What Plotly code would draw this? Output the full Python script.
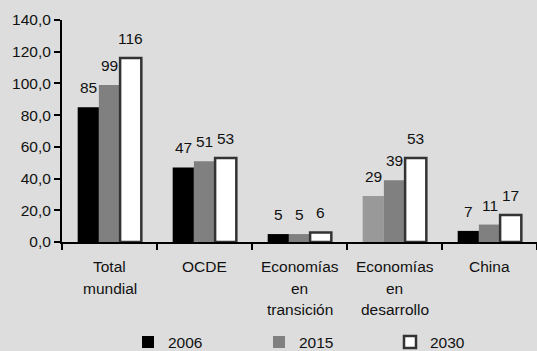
import plotly.graph_objects as go

# Categories, with the line breaks used for their labels under the axis
categories = ["Total mundial", "OCDE", "Economías en transición",
              "Economías en desarrollo", "China"]
category_lines = [["Total", "mundial"], ["OCDE"], ["Economías", "en", "transición"],
                  ["Economías", "en", "desarrollo"], ["China"]]

years = ["2006", "2015", "2030"]
values_2006 = [85, 47, 5, 29, 7]
values_2015 = [99, 51, 5, 39, 11]
values_2030 = [116, 53, 6, 53, 17]

y_ticks = [0, 20, 40, 60, 80, 100, 120, 140]

# Styling
W, H = 537, 351
BG = "#dddddd"
FONT = "Liberation Sans, Arial, sans-serif"
FS = 15.5
BARGAP = 0.33
fill_2006 = ["#000000", "#000000", "#000000", "#999999", "#000000"]
series = [
    (years[0], values_2006, dict(color=fill_2006, line=dict(width=0))),
    (years[1], values_2015, dict(color="#808080", line=dict(width=0))),
    (years[2], values_2030, dict(color="#ffffff", line=dict(width=2.5, color="#333333"))),
]

fig = go.Figure()
for name, vals, marker in series:
    fig.add_trace(go.Bar(x=categories, y=vals, name=name, marker=marker))

annotations = []
# value labels above each bar
bar_w = (1 - BARGAP) / len(series)
for j, (name, vals, _) in enumerate(series):
    for i, v in enumerate(vals):
        annotations.append(dict(
            x=i + (j - 1) * bar_w, y=v, xref="x", yref="y",
            text=str(v), showarrow=False, yanchor="bottom", yshift=9,
            font=dict(family=FONT, size=FS, color="#111111")))

# category labels, one line at a time
for i, lines in enumerate(category_lines):
    for k, line in enumerate(lines):
        annotations.append(dict(
            x=i, y=0, xref="x", yref="y", text=line, showarrow=False,
            yanchor="middle", yshift=-(24.8 + 21.5 * k),
            font=dict(family=FONT, size=FS, color="#111111")))

fig.update_layout(
    width=W, height=H,
    margin=dict(l=62, r=0, t=20, b=109, pad=0),
    paper_bgcolor=BG, plot_bgcolor=BG,
    font=dict(family=FONT, size=FS, color="#111111"),
    separators=", ",
    barmode="group", bargap=BARGAP, bargroupgap=0,
    showlegend=True,
    legend=dict(
        orientation="h", xref="container", yref="container",
        x=128 / W, xanchor="left", y=(H - 342.5) / H, yanchor="middle",
        entrywidth=86, entrywidthmode="pixels",
        bgcolor="rgba(0,0,0,0)", font=dict(family=FONT, size=FS),
        traceorder="normal"),
    annotations=annotations,
)
fig.update_xaxes(
    type="category", range=[-0.5, len(categories) - 0.5],
    showticklabels=False, tickson="boundaries",
    ticks="outside", ticklen=6, tickwidth=2, tickcolor="#000000",
    showline=True, linewidth=2, linecolor="#000000", showgrid=False)
fig.update_yaxes(
    range=[0, 140], tickvals=y_ticks, tickformat=".1f",
    ticks="outside", ticklen=6, tickwidth=2, tickcolor="#000000",
    showline=True, linewidth=2, linecolor="#000000",
    showgrid=False, zeroline=False)

fig.write_html("out.html")
